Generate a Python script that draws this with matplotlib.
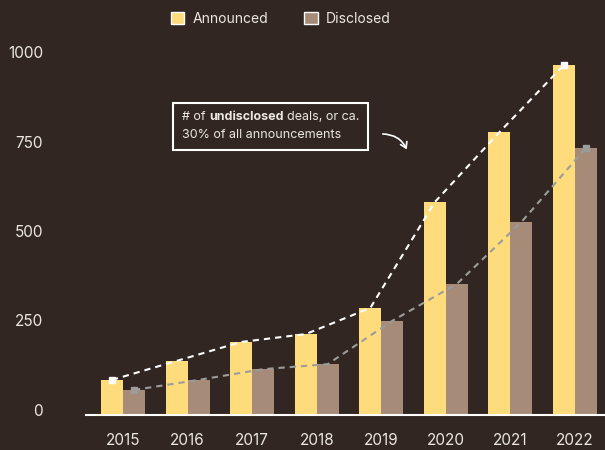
import matplotlib
matplotlib.use("Agg")
import matplotlib.pyplot as plt
import matplotlib.patches as mpatches
from matplotlib.transforms import ScaledTranslation

years = ["2015", "2016", "2017", "2018", "2019", "2020", "2021", "2022"]
announced = [98, 151, 204, 226, 299, 595, 790, 978]
disclosed = [70, 98, 128, 142, 263, 366, 539, 746]
y_ticks = [0, 250, 500, 750, 1000]

BG = "#312622"
YELLOW = "#fedb7b"
TAUPE = "#a68b79"
TEXT = "#ebe6e1"

plt.rcParams["font.family"] = ["Inter", "DejaVu Sans"]

fig = plt.figure(figsize=(6.05, 4.5), dpi=100, facecolor=BG)
# axes: left at 86px, baseline at 415px, value 1000 at 57px
ax = fig.add_axes([86 / 605, 35 / 450, 519 / 605, 358 / 450])
ax.set_facecolor(BG)

x = list(range(len(years)))
w = 0.34
xa = [i - w / 2 for i in x]
xd = [i + w / 2 for i in x]

ax.bar(xa, announced, width=w, color=YELLOW, zorder=2)
ax.bar(xd, disclosed, width=w, color=TAUPE, zorder=2)

ax.plot(xa, announced, color="white", lw=1.5, linestyle=(0, (3, 2.4)),
        marker="s", markersize=5, markevery=[0, len(years) - 1], zorder=3)
ax.plot(xd, disclosed, color="#9c9c9c", lw=1.5, linestyle=(0, (3, 2.4)),
        marker="s", markersize=5, markevery=[0, len(years) - 1], zorder=3)

ax.set_xlim(-0.573, 7.465)
ax.set_ylim(0, 1000)

for s in ["top", "right", "left"]:
    ax.spines[s].set_visible(False)
ax.spines["bottom"].set_color("white")
ax.spines["bottom"].set_linewidth(1.5)
ax.spines["bottom"].set_zorder(4)

ax.set_xticks(x)
ax.set_xticklabels(years, fontsize=11, color=TEXT)
ax.set_yticks(y_ticks)
ax.set_yticklabels([str(v) for v in y_ticks], fontsize=11, color=TEXT)
ax.tick_params(axis="both", length=0)
ax.tick_params(axis="x", pad=13)
ax.tick_params(axis="y", pad=31)
for lab in ax.get_yticklabels():
    lab.set_transform(lab.get_transform() + ScaledTranslation(0, 0.05, fig.dpi_scale_trans))

# legend
handles = [mpatches.Patch(facecolor=YELLOW, edgecolor="white", lw=1, label="Announced"),
           mpatches.Patch(facecolor=TAUPE, edgecolor="white", lw=1, label="Disclosed")]
fig.legend(handles=handles, loc="center", bbox_to_anchor=(281 / 605, 1 - 19 / 450),
           ncol=2, frameon=False, fontsize=10, labelcolor=TEXT,
           handlelength=0.95, handleheight=0.95, handletextpad=0.6, columnspacing=2.6)

# annotation box with a bold word
fig.canvas.draw()
renderer = fig.canvas.get_renderer()
fs = 9


def text_width(s, weight="normal"):
    t = fig.text(0, 0, s, fontsize=fs, fontweight=weight)
    wd = t.get_window_extent(renderer).width
    t.remove()
    return wd


space = text_width("a a") - text_width("aa")
px, py = 182, 1 - 117 / 450
pieces = [("# of", "normal", True), ("undisclosed", "bold", False), ("deals, or ca.", "normal", True)]
for i, (txt, weight, _) in enumerate(pieces):
    fig.text(px / 605, py, txt, fontsize=fs, fontweight=weight, color=TEXT, va="center", ha="left")
    px += text_width(txt, weight) + space
fig.text(182 / 605, 1 - 135 / 450, "30% of all announcements", fontsize=fs,
         color=TEXT, va="center", ha="left")
fig.patches.append(mpatches.Rectangle((173 / 605, 1 - 150 / 450), 195 / 605, 47 / 450,
                                      transform=fig.transFigure, fill=False,
                                      edgecolor="white", lw=1.5))

arrow = mpatches.FancyArrowPatch((380 / 605, 1 - 134 / 450), (408 / 605, 1 - 152 / 450),
                                 transform=fig.transFigure, connectionstyle="arc3,rad=-0.35",
                                 arrowstyle="->,head_length=4,head_width=2.5",
                                 color="white", lw=1.2)
fig.patches.append(arrow)

fig.savefig("out.png", dpi=100, facecolor=BG)
